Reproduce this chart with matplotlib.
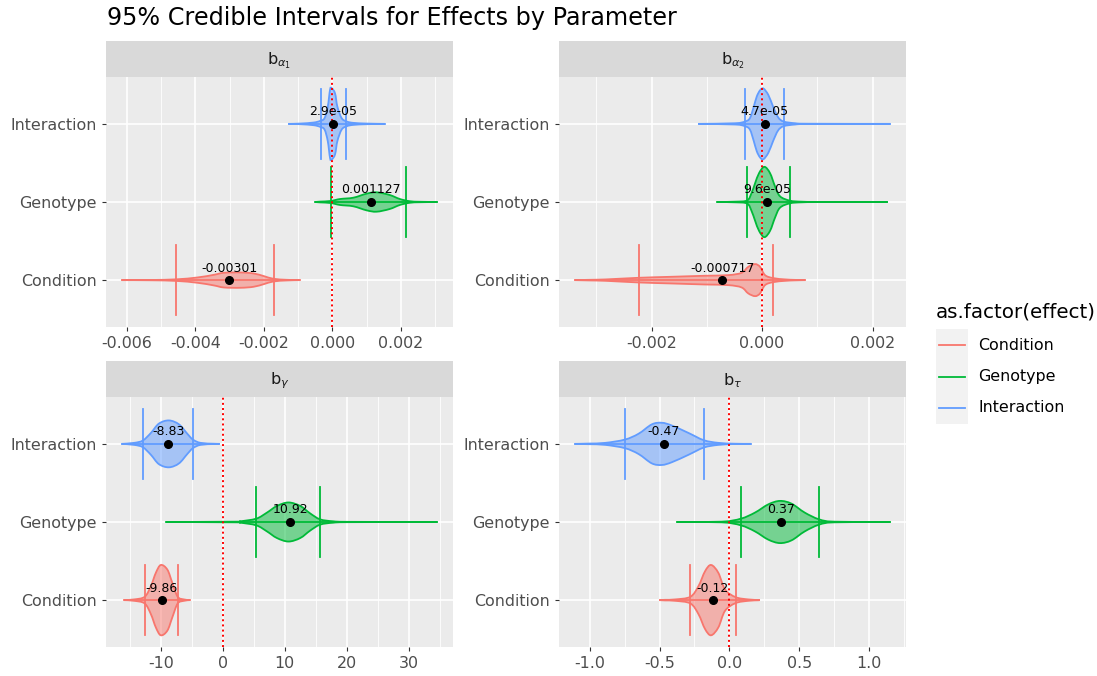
import matplotlib.pyplot as plt
import numpy as np
from matplotlib.ticker import MultipleLocator, FormatStrFormatter
from matplotlib.path import Path
from matplotlib.patches import PathPatch

plt.rcParams['font.family'] = ['DejaVu Sans']
plt.rcParams['axes.unicode_minus'] = False
plt.rcParams['mathtext.fontset'] = 'dejavusans'

# effects in y order (bottom -> top)
effects = ['Condition', 'Genotype', 'Interaction']
effect_colors = ['#F8766D', '#00BA38', '#619CFF']
strip_labels = [r'$\mathrm{b}_{\alpha_1}$', r'$\mathrm{b}_{\alpha_2}$',
                r'$\mathrm{b}_{\gamma}$', r'$\mathrm{b}_{\tau}$']
tick_steps = [0.002, 0.002, 10, 0.5]
tick_formats = ['%.3f', '%.3f', '%d', '%.1f']

# per panel: [Condition, Genotype, Interaction]
point_est = [[-0.00301, 0.001127, 2.9e-05],
             [-0.000717, 9.6e-05, 4.7e-05],
             [-9.86, 10.92, -8.83],
             [-0.12, 0.37, -0.47]]
ci_low = [[-0.00456, -0.00005, -0.00034],
          [-0.00223, -0.00027, -0.00031],
          [-12.6, 5.41, -12.9],
          [-0.279, 0.083, -0.748]]
ci_high = [[-0.00172, 0.00214, 0.00039],
           [0.0002, 0.00051, 0.00039],
           [-7.28, 15.7, -4.82],
           [0.045, 0.643, -0.183]]
draw_min = [[-0.00615, -0.0005, -0.00128],
            [-0.00339, -0.00081, -0.00115],
            [-15.9, -9.16, -16.3],
            [-0.5, -0.376, -1.107]]
draw_max = [[-0.00096, 0.00306, 0.00153],
            [0.00078, 0.00227, 0.00232],
            [-5.36, 34.6, -0.54],
            [0.212, 1.152, 0.155]]

# violin outlines: position and half width (category units)
dens_x = [
    [[-0.0053, -0.00456, -0.00394, -0.00346, -0.00317, -0.00268, -0.0023, -0.002, -0.00172, -0.00133],
     [-0.00036, -0.00005, 0.00022, 0.00061, 0.001, 0.00129, 0.00167, 0.00197, 0.00226, 0.00255],
     [-0.00094, -0.00055, -0.00036, -0.00023, -0.000136, -0.000068, -0.00002, 0.000077, 0.000145,
      0.00027, 0.00042, 0.00061, 0.001]],
    [[-0.00313, -0.00283, -0.00223, -0.00163, -0.00103, -0.00061, -0.00037, -0.00025, -0.000126,
      -0.000036, 0.000054, 0.0002, 0.00042, 0.0006],
     [-0.00049, -0.00027, -0.00019, -0.000126, -0.000054, 0.000042, 0.000144, 0.000235, 0.000325,
      0.000505, 0.00072, 0.00108],
     [-0.00049, -0.00031, -0.00022, -0.00015, -0.000096, -0.000036, 0.000024, 0.000114, 0.0002,
      0.00029, 0.00039, 0.0006, 0.00084]],
    [[-14.3, -12.6, -11.6, -10.8, -10.0, -8.94, -8.14, -7.28, -6.27],
     [1.77, 2.84, 5.41, 7.12, 8.73, 10.6, 12.5, 14.1, 15.7, 17.8, 20.5],
     [-14.3, -12.9, -11.6, -10.3, -8.68, -7.07, -5.73, -4.82, -3.59, -1.45]],
    [[-0.46, -0.388, -0.279, -0.221, -0.174, -0.131, -0.079, -0.031, 0.045, 0.136, 0.207],
     [-0.055, 0.083, 0.183, 0.279, 0.362, 0.445, 0.54, 0.643, 0.755],
     [-1.007, -0.888, -0.748, -0.65, -0.555, -0.483, -0.412, -0.293, -0.183, -0.079, 0.04]],
]
dens_w = [
    [[0.002, 0.01, 0.034, 0.068, 0.094, 0.098, 0.085, 0.051, 0.017, 0.004],
     [0.005, 0.013, 0.038, 0.055, 0.107, 0.124, 0.09, 0.038, 0.01, 0.003],
     [0.004, 0.017, 0.038, 0.073, 0.22, 0.44, 0.457, 0.39, 0.22, 0.073, 0.03, 0.013, 0.004]],
    [[0.004, 0.009, 0.03, 0.043, 0.056, 0.064, 0.094, 0.17, 0.205, 0.17, 0.064, 0.026, 0.009, 0.003],
     [0.004, 0.02, 0.115, 0.24, 0.37, 0.45, 0.37, 0.2, 0.073, 0.017, 0.004, 0.001],
     [0.008, 0.03, 0.073, 0.22, 0.35, 0.43, 0.453, 0.37, 0.22, 0.085, 0.03, 0.008, 0.002]],
    [[0.009, 0.043, 0.18, 0.35, 0.45, 0.39, 0.22, 0.043, 0.009],
     [0.004, 0.009, 0.043, 0.12, 0.205, 0.25, 0.205, 0.11, 0.034, 0.009, 0.002],
     [0.013, 0.043, 0.14, 0.26, 0.30, 0.25, 0.13, 0.055, 0.013, 0.002]],
    [[0.004, 0.009, 0.043, 0.18, 0.37, 0.45, 0.35, 0.137, 0.038, 0.009, 0.002],
     [0.004, 0.043, 0.12, 0.226, 0.27, 0.235, 0.12, 0.034, 0.004],
     [0.004, 0.013, 0.055, 0.13, 0.25, 0.27, 0.235, 0.14, 0.047, 0.013, 0.002]],
]

W, H = 1097, 676
fig = plt.figure(figsize=(W / 100, H / 100), dpi=100)


def px_axes(l, t, r, b):
    return fig.add_axes([l / W, 1 - b / H, (r - l) / W, (b - t) / H])


def smooth_path(xs, ys):
    # Catmull-Rom style bezier through the read outline points
    pts = np.column_stack([xs, ys])
    n = len(pts)
    verts = [pts[0]]
    codes = [Path.MOVETO]
    for k in range(n - 1):
        p0 = pts[max(k - 1, 0)]
        p1 = pts[k]
        p2 = pts[k + 1]
        p3 = pts[min(k + 2, n - 1)]
        c1 = p1 + (p2 - p0) / 6
        c2 = p2 - (p3 - p1) / 6
        verts += [c1, c2, p2]
        codes += [Path.CURVE4] * 3
    return verts, codes


# panel boxes in pixels (left, top, right, bottom)
boxes = [(106, 77, 453, 327), (559, 77, 906, 327), (106, 397, 453, 647), (559, 397, 906, 647)]

for p, (l, t, r, b) in enumerate(boxes):
    # strip
    sax = px_axes(l, t - 36, r, t)
    sax.set_facecolor('#D9D9D9')
    sax.set_xticks([])
    sax.set_yticks([])
    for s in sax.spines.values():
        s.set_visible(False)
    sax.text(0.5, 0.45, strip_labels[p], ha='center', va='center', fontsize=11.6, color='#1A1A1A')

    ax = px_axes(l, t, r, b)
    ax.set_facecolor('#EBEBEB')
    for s in ax.spines.values():
        s.set_visible(False)

    lo_all = min(draw_min[p])
    hi_all = max(draw_max[p])
    pad = (hi_all - lo_all) * 0.05
    ax.set_xlim(lo_all - pad, hi_all + pad)
    ax.set_ylim(0.4, 3.6)

    ax.xaxis.set_major_locator(MultipleLocator(tick_steps[p]))
    ax.xaxis.set_minor_locator(MultipleLocator(tick_steps[p] / 2))
    ax.xaxis.set_major_formatter(FormatStrFormatter(tick_formats[p]))
    ax.set_yticks([1, 2, 3])
    ax.set_yticklabels(effects)
    ax.grid(which='major', color='white', linewidth=1.2)
    ax.grid(which='minor', axis='x', color='white', linewidth=0.6)
    ax.set_axisbelow(True)
    ax.tick_params(which='major', length=3.2, width=0.8, color='#333333',
                   labelsize=11.4, labelcolor='#4D4D4D', pad=3.6)
    ax.tick_params(which='minor', length=0)

    for i, eff in enumerate(effects):
        y = i + 1
        col = effect_colors[i]
        xs = np.array([draw_min[p][i]] + dens_x[p][i] + [draw_max[p][i]])
        ws = np.array([0] + dens_w[p][i] + [0])
        v_top, c_top = smooth_path(xs, y + ws)
        v_bot, c_bot = smooth_path(xs[::-1], (y - ws)[::-1])
        c_bot[0] = Path.LINETO
        path = Path(v_top + v_bot, c_top + c_bot)
        ax.add_patch(PathPatch(path, facecolor=col, alpha=0.5, edgecolor='none', zorder=2))
        ax.add_patch(PathPatch(path, facecolor='none', edgecolor=col, linewidth=1.3, zorder=3))
        ax.plot([draw_min[p][i], draw_max[p][i]], [y, y], color=col, linewidth=1.3, zorder=3)
        for q in (ci_low[p][i], ci_high[p][i]):
            ax.plot([q, q], [y - 0.45, y + 0.45], color=col, linewidth=1.3, zorder=3)

    ax.axvline(0, color='red', linestyle=':', linewidth=1.4, zorder=4)

    for i in range(3):
        y = i + 1
        ax.plot(point_est[p][i], y, 'o', color='black', markersize=5.5, zorder=5)
        ax.text(point_est[p][i], y + 0.155, str(point_est[p][i]), ha='center', va='center',
                fontsize=9, color='black', zorder=6)

fig.text(107 / W, 1 - 18 / H, '95% Credible Intervals for Effects by Parameter',
         fontsize=17.2, ha='left', va='center', color='black')

# legend
fig.text(936 / W, 1 - 312 / H, 'as.factor(effect)', fontsize=14.3, ha='left', va='center')
kax = px_axes(936, 329, 968, 424)
kax.set_facecolor('#F2F2F2')
kax.set_xlim(0, 1)
kax.set_ylim(0, 3)
kax.set_xticks([])
kax.set_yticks([])
for s in kax.spines.values():
    s.set_visible(False)
for i, eff in enumerate(effects):
    yk = 2.5 - i
    kax.plot([0.1, 0.9], [yk, yk], color=effect_colors[i], linewidth=1.3)
    fig.text(978 / W, 1 - (345 + 31.5 * i) / H, eff, fontsize=11.4, ha='left', va='center')

fig.savefig('out.png', dpi=100)
